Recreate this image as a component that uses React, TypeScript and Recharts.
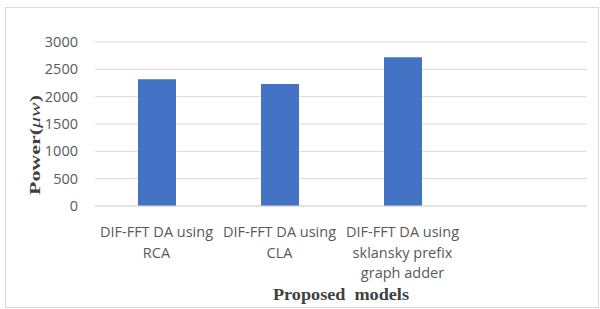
import { BarChart, Bar, XAxis, YAxis, CartesianGrid, Label } from "recharts";

const categories: string[] = [
  "DIF-FFT DA using\nRCA",
  "DIF-FFT DA using\nCLA",
  "DIF-FFT DA using\nsklansky prefix\ngraph adder",
  "",
];
const power: (number | null)[] = [2320, 2230, 2720, null];
const yTicks: number[] = [0, 500, 1000, 1500, 2000, 2500, 3000];

const data = categories.map((c, i) => ({ name: c, power: power[i] }));

const tickFont = "'Open Sans', 'Noto Sans', sans-serif";

const XTick = (props: any) => {
  const { x, y, payload } = props;
  const lines = String(payload.value).split("\n");
  return (
    <text x={x} y={y} textAnchor="middle" fill="#595959" fontSize={14.5} fontFamily={tickFont}>
      {lines.map((l, i) => (
        <tspan key={i} x={x} dy={i === 0 ? 29 : 20.5}>
          {l}
        </tspan>
      ))}
    </text>
  );
};

// the titles in the picture are stretched, so fix their length
const YTitle = (props: any) => {
  const vb = props.viewBox;
  const cx = vb.x + 15;
  const cy = vb.y + vb.height / 2 + 21;
  return (
    <text
      x={cx}
      y={cy}
      transform={`rotate(-90 ${cx} ${cy})`}
      textAnchor="middle"
      fill="#404040"
      fontSize={15}
      fontWeight="bold"
      fontFamily="'Liberation Serif', serif"
      textLength={100}
      lengthAdjust="spacingAndGlyphs"
    >
      Power(<tspan fontStyle="italic" fontWeight="normal">μw</tspan>)
    </text>
  );
};

const XTitle = (props: any) => {
  const vb = props.viewBox;
  return (
    <text
      x={vb.x + vb.width / 2}
      y={vb.y + vb.height - 9}
      textAnchor="middle"
      fill="#404040"
      fontSize={16}
      fontWeight="bold"
      fontFamily="'Liberation Serif', serif"
      textLength={136}
      lengthAdjust="spacingAndGlyphs"
      style={{ whiteSpace: "pre" }}
    >
      {"Proposed  models"}
    </text>
  );
};

export default function App() {
  return (
    <div style={{ position: "absolute", left: 0, top: 0, width: 600, height: 309, background: "#fff" }}>
      <div
        style={{
          position: "absolute",
          left: 5,
          top: 7,
          width: 592,
          height: 299,
          border: "1px solid #d9d9d9",
        }}
      />
      <BarChart
        width={600}
        height={309}
        data={data}
        margin={{ top: 42, right: 13, bottom: 0, left: 25 }}
        style={{ position: "absolute", left: 0, top: 0 }}
      >
        <CartesianGrid vertical={false} stroke="#d9d9d9" />
        <XAxis
          dataKey="name"
          height={103}
          interval={0}
          axisLine={{ stroke: "#d9d9d9" }}
          tickLine={false}
          tickSize={0}
          tick={<XTick />}
        >
          <Label content={<XTitle />} />
        </XAxis>
        <YAxis
          domain={[0, 3000]}
          ticks={yTicks}
          width={70}
          axisLine={false}
          tickLine={false}
          tickSize={0}
          tickMargin={17}
          tick={{ fill: "#595959", fontSize: 14.5, fontFamily: tickFont }}
        >
          <Label content={<YTitle />} />
        </YAxis>
        <Bar dataKey="power" fill="#4472c4" barSize={38} isAnimationActive={false} />
      </BarChart>
    </div>
  );
}
